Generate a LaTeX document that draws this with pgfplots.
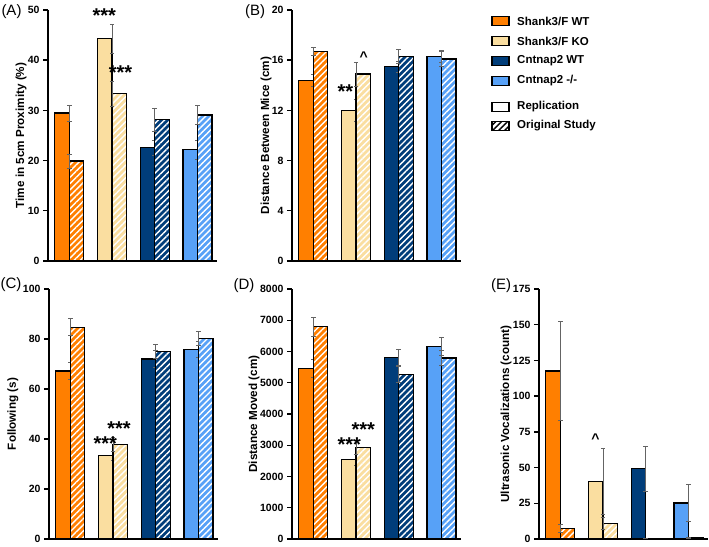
\documentclass[border=0pt]{standalone}
\usepackage{pgfplots}
\pgfplotsset{compat=1.18}
\usetikzlibrary{patterns.meta}
\usepackage{fontspec}
\setmainfont{Liberation Sans}
\definecolor{cOr}{RGB}{255,127,0}
\definecolor{cKO}{RGB}{250,222,160}
\definecolor{cWT}{RGB}{0,61,122}
\definecolor{cNa}{RGB}{87,161,247}
\definecolor{cErr}{RGB}{100,100,100}

\pgfplotsset{
  panel/.style={
    scale only axis, width=169pt,
    axis lines=left,
    axis line style={-, black, line width=1.4pt},
    xmin=-0.5, xmax=3.46, ymin=0,
    xtick=\empty,
    tick align=outside, ytick align=outside, ytick pos=left,
    major tick length=5pt,
    ytick style={draw=black, line width=1.4pt},
    tick label style={font=\fontsize{10.5}{12}\selectfont\bfseries},
    /pgf/number format/assume math mode=true,
    /pgf/number format/set thousands separator={},
    ylabel style={font=\fontsize{11.7}{13}\selectfont\bfseries, at={(axis description cs:0,0.5)}, anchor=center},
    clip=false,
  },
  rep/.style={ybar, draw=black, line width=1.3pt, fill=#1, bar width=14.5pt, bar shift=-7.25pt,
    error bars/.cd, y dir=both, y explicit,
    error bar style={cErr, line width=0.6pt},
    error mark options={cErr, rotate=90, mark size=2.2pt, line width=0.6pt}},
  org/.style={ybar, draw=black, line width=1.3pt, preaction={fill=#1}, pattern={Lines[angle=45,distance=4.4pt,line width=1.4pt]}, pattern color=white, bar width=14.5pt, bar shift=7.25pt,
    error bars/.cd, y dir=both, y explicit,
    error bar style={cErr, line width=0.6pt},
    error mark options={cErr, rotate=90, mark size=2.2pt, line width=0.6pt}},
}
\tikzset{
  stars/.style={font=\fontsize{20}{20}\selectfont\bfseries, inner sep=0pt, anchor=center, yshift=-4.2pt},
  caret/.style={font=\fontsize{14}{14}\selectfont\bfseries, inner sep=0pt, anchor=center, yshift=-2.3pt},
  plab/.style={font=\fontsize{15}{15}\selectfont, inner sep=0pt, anchor=center},
}

\begin{document}
\begin{tikzpicture}
\useasboundingbox (0pt,0pt) rectangle (709pt,546pt);

% (A)
\begin{axis}[panel, at={(48pt,285pt)}, anchor=south west, height=251pt,
  ymax=50, ytick={0,10,20,30,40,50},
  ylabel={Time in 5cm Proximity (\%)}, ylabel style={yshift=27pt}]
\addplot[rep=cOr] coordinates {(0,29.5) +- (0,1.6)};
\addplot[org=cOr] coordinates {(0,19.9) +- (0,1.4)};
\addplot[rep=cKO] coordinates {(1,44.3) +- (0,2.9)};
\addplot[org=cKO] coordinates {(1,33.3) +- (0,2.5)};
\addplot[rep=cWT] coordinates {(2,22.6) +- (0,1.5)};
\addplot[org=cWT] coordinates {(2,28.2) +- (0,2.3)};
\addplot[rep=cNa] coordinates {(3,22.2) +- (0,1.9)};
\addplot[org=cNa] coordinates {(3,29.1) +- (0,1.9)};
\node[stars] at (axis cs:0.82,49.7) {***};
\node[stars] at (axis cs:1.2,38.4) {***};
\end{axis}

% (B)
\begin{axis}[panel, at={(292pt,285pt)}, anchor=south west, height=251pt,
  ymax=20, ytick={0,4,8,12,16,20},
  ylabel={Distance Between Mice (cm)}, ylabel style={yshift=26pt}]
\addplot[rep=cOr] coordinates {(0,14.4) +- (0,0.45)};
\addplot[org=cOr] coordinates {(0,16.7) +- (0,0.3)};
\addplot[rep=cKO] coordinates {(1,12.0) +- (0,0.85)};
\addplot[org=cKO] coordinates {(1,14.9) +- (0,0.95)};
\addplot[rep=cWT] coordinates {(2,15.5) +- (0,0.45)};
\addplot[org=cWT] coordinates {(2,16.3) +- (0,0.55)};
\addplot[rep=cNa] coordinates {(3,16.3) +- (0,0.5)};
\addplot[org=cNa] coordinates {(3,16.1) +- (0,0.6)};
\node[stars] at (axis cs:0.75,13.8) {**};
\node[caret] at (axis cs:1.18,16.5) {\^{}};
\end{axis}

% (C)
\begin{axis}[panel, at={(49pt,7pt)}, anchor=south west, height=250pt,
  ymax=100, ytick={0,20,40,60,80,100},
  ylabel={Following (s)}, ylabel style={yshift=36pt}]
\addplot[rep=cOr] coordinates {(0,67.2) +- (0,3.4)};
\addplot[org=cOr] coordinates {(0,84.7) +- (0,3.4)};
\addplot[rep=cKO] coordinates {(1,33.3) +- (0,1.9)};
\addplot[org=cKO] coordinates {(1,37.9) +- (0,2.8)};
\addplot[rep=cWT] coordinates {(2,72.0) +- (0,3.3)};
\addplot[org=cWT] coordinates {(2,75.0) +- (0,2.9)};
\addplot[rep=cNa] coordinates {(3,75.9) +- (0,3.3)};
\addplot[org=cNa] coordinates {(3,80.3) +- (0,2.8)};
\node[stars] at (axis cs:0.82,40) {***};
\node[stars] at (axis cs:1.14,46) {***};
\end{axis}

% (D)
\begin{axis}[panel, at={(292pt,7pt)}, anchor=south west, height=250pt,
  ymax=8000, ytick={0,1000,2000,3000,4000,5000,6000,7000,8000},
  scaled y ticks=false,
  ylabel={Distance Moved (cm)}, ylabel style={yshift=38pt}]
\addplot[rep=cOr] coordinates {(0,5464) +- (0,290)};
\addplot[org=cOr] coordinates {(0,6795) +- (0,300)};
\addplot[rep=cKO] coordinates {(1,2545) +- (0,180)};
\addplot[org=cKO] coordinates {(1,2929) +- (0,230)};
\addplot[rep=cWT] coordinates {(2,5815) +- (0,265)};
\addplot[org=cWT] coordinates {(2,5272) +- (0,255)};
\addplot[rep=cNa] coordinates {(3,6166) +- (0,300)};
\addplot[org=cNa] coordinates {(3,5793) +- (0,235)};
\node[stars] at (axis cs:0.84,3142) {***};
\node[stars] at (axis cs:1.17,3621) {***};
\end{axis}

% (E)
\begin{axis}[panel, at={(539pt,7pt)}, anchor=south west, height=250pt,
  ymax=175, ytick={0,25,50,75,100,125,150,175},
  ylabel={Ultrasonic Vocalizations (count)}, ylabel style={yshift=33pt}]
\addplot[rep=cOr] coordinates {(0,117.7) +- (0,34.5)};
\addplot[org=cOr] coordinates {(0,7.5) +- (0,2.5)};
\addplot[rep=cKO] coordinates {(1,40.3) +- (0,23)};
\addplot[org=cKO] coordinates {(1,11.0) +- (0,3.9)};
\addplot[rep=cWT] coordinates {(2,49.2) +- (0,16)};
\addplot[org=cWT] coordinates {(2,0.5) +- (0,0.2)};
\addplot[rep=cNa] coordinates {(3,25.2) +- (0,12.8)};
\addplot[org=cNa] coordinates {(3,1.0) +- (0,0.5)};
\node[caret] at (axis cs:0.82,71.8) {\^{}};
\end{axis}

% panel labels
\node[plab] at (11.5pt,534pt) {(A)};
\node[plab] at (255pt,534pt) {(B)};
\node[plab] at (11pt,261pt) {(C)};
\node[plab] at (244pt,260pt) {(D)};
\node[plab] at (501pt,260pt) {(E)};

% legend
\begin{scope}[line width=1.2pt]
\draw[fill=cOr] (492pt,520.5pt) rectangle (509pt,529.5pt);
\draw[fill=cKO] (492pt,500.5pt) rectangle (509pt,509.5pt);
\draw[fill=cWT] (492pt,480.5pt) rectangle (509pt,489.5pt);
\draw[fill=cNa] (492pt,460.5pt) rectangle (509pt,469.5pt);
\draw[fill=white] (492pt,434.5pt) rectangle (509pt,443.5pt);
\fill[white] (492pt,415.5pt) rectangle (509pt,424.5pt);
\fill[pattern={Lines[angle=45,distance=4.2pt,line width=1.4pt]}, pattern color=black] (492pt,415.5pt) rectangle (509pt,424.5pt);
\draw (492pt,415.5pt) rectangle (509pt,424.5pt);
\end{scope}
\begin{scope}[every node/.style={anchor=west, inner sep=0pt, font=\fontsize{11.5}{13}\selectfont\bfseries}]
\node at (517pt,525pt) {Shank3/F WT};
\node at (517pt,505pt) {Shank3/F KO};
\node at (517pt,485pt) {Cntnap2 WT};
\node at (517pt,465pt) {Cntnap2 -/-};
\node at (517pt,439pt) {Replication};
\node at (517pt,420pt) {Original Study};
\end{scope}
\end{tikzpicture}
\end{document}
